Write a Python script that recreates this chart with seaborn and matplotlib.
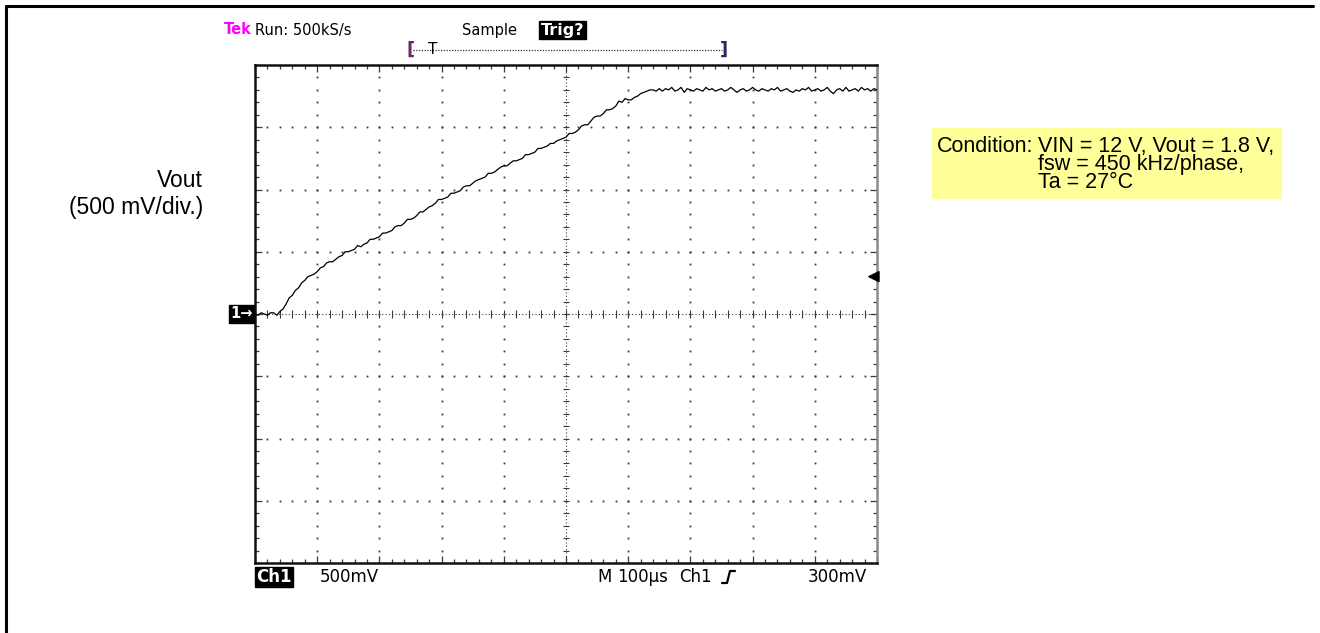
import numpy as np
import pandas as pd
import matplotlib
matplotlib.use("Agg")
import matplotlib.pyplot as plt
import seaborn as sns
from matplotlib.lines import Line2D
from matplotlib.patches import Rectangle

# ---------------- data ----------------
time_us = list(range(0, 1001, 5))           # 100 us/div, 10 div
vout_v = [
    0.00, -0.01, 0.01, 0.00, -0.01, 0.01, 0.01, -0.01, 0.02, 0.04,
    0.08, 0.13, 0.15, 0.19, 0.21, 0.25, 0.27, 0.30, 0.31, 0.32,
    0.34, 0.37, 0.38, 0.41, 0.42, 0.42, 0.44, 0.46, 0.47, 0.50,
    0.50, 0.51, 0.52, 0.55, 0.54, 0.56, 0.57, 0.60, 0.60, 0.61,
    0.62, 0.65, 0.65, 0.66, 0.67, 0.70, 0.71, 0.71, 0.73, 0.76,
    0.76, 0.77, 0.79, 0.82, 0.82, 0.84, 0.86, 0.87, 0.89, 0.92,
    0.92, 0.93, 0.94, 0.97, 0.97, 0.98, 0.99, 1.02, 1.03, 1.03,
    1.05, 1.07, 1.08, 1.09, 1.10, 1.13, 1.13, 1.14, 1.16, 1.18,
    1.19, 1.19, 1.21, 1.23, 1.23, 1.24, 1.25, 1.28, 1.28, 1.29,
    1.30, 1.33, 1.33, 1.34, 1.35, 1.37, 1.37, 1.39, 1.40, 1.41,
    1.42, 1.45, 1.45, 1.46, 1.48, 1.51, 1.52, 1.52, 1.55, 1.58,
    1.59, 1.59, 1.61, 1.64, 1.64, 1.65, 1.67, 1.71, 1.70, 1.73,
    1.72, 1.72, 1.74, 1.75, 1.77, 1.78, 1.79, 1.80, 1.80, 1.79,
    1.81, 1.79, 1.81, 1.80, 1.82, 1.79, 1.80, 1.82, 1.78, 1.81,
    1.80, 1.79, 1.81, 1.80, 1.79, 1.82, 1.80, 1.81, 1.79, 1.80,
    1.81, 1.79, 1.80, 1.82, 1.80, 1.78, 1.80, 1.81, 1.79, 1.80,
    1.82, 1.80, 1.79, 1.81, 1.80, 1.79, 1.81, 1.80, 1.82, 1.79,
    1.80, 1.81, 1.79, 1.78, 1.80, 1.79, 1.81, 1.80, 1.82, 1.79,
    1.80, 1.81, 1.79, 1.80, 1.82, 1.79, 1.77, 1.80, 1.81, 1.79,
    1.82, 1.79, 1.80, 1.81, 1.79, 1.82, 1.80, 1.81, 1.79, 1.81,
    1.80,
]
assert len(time_us) == len(vout_v)
trigger_level_v = 0.3

header_labels = ["Tek", "Run: 500kS/s", "Sample", "Trig?"]
footer_labels = ["Ch1", "500mV", "M", "100\u00b5s", "Ch1", "300mV"]
ylabel_lines = ["Vout", "(500 mV/div.)"]
condition_head = "Condition:"
condition_lines = ["VIN = 12 V, Vout = 1.8 V,",
                   "fsw = 450 kHz/phase,",
                   "Ta = 27\u00b0C"]

df = pd.DataFrame({"t_us": time_us, "vout_v": vout_v})

# ---------------- figure ----------------
sns.set_style("white")
plt.rcParams["font.family"] = ["DejaVu Sans"]
plt.rcParams["text.color"] = "black"

W, H = 1320, 633
fig = plt.figure(figsize=(W / 100, H / 100), dpi=100)

def P(x, y):
    return (x / W, 1 - y / H)

ax = fig.add_axes([255 / W, 1 - 563 / H, 622 / W, 498 / H])
ax.set_xlim(0, 1000)
ax.set_ylim(-2, 2)

# graticule: dotted division lines
gcol = "#3a3a3a"
ys_minor = np.arange(-2, 2.001, 0.1)
xs_minor = np.arange(0, 1000.1, 20)
for xv in range(100, 1000, 100):
    if xv == 500:
        continue
    ax.plot(np.full_like(ys_minor, xv), ys_minor, ls="none", marker="s",
            ms=1.3, mew=0, color=gcol, zorder=1)
for yv in [-1.5, -1.0, -0.5, 0.5, 1.0, 1.5]:
    ax.plot(xs_minor, np.full_like(xs_minor, yv), ls="none", marker="s",
            ms=1.3, mew=0, color=gcol, zorder=1)
# center cross
ax.axhline(0, color=gcol, lw=0.8, ls=(0, (1, 2)), zorder=1)
ax.axvline(500, color=gcol, lw=0.8, ls=(0, (1, 2)), zorder=1)
ax.vlines(xs_minor, -0.035, 0.035, color=gcol, lw=0.8, zorder=1)
ax.hlines(ys_minor, 495, 505, color=gcol, lw=0.8, zorder=1)

# edge ticks
ax.set_xticks(np.arange(0, 1001, 100))
ax.set_yticks(np.arange(-2, 2.01, 0.5))
ax.set_xticks(xs_minor, minor=True)
ax.set_yticks(ys_minor, minor=True)
ax.tick_params(which="both", direction="in", top=True, right=True,
               bottom=True, left=True, labelbottom=False, labelleft=False,
               color=gcol, width=0.9)
ax.tick_params(which="major", length=5)
ax.tick_params(which="minor", length=3)
for s in ["left", "top", "bottom"]:
    ax.spines[s].set_color("#111111")
    ax.spines[s].set_linewidth(1.8)
ax.spines["right"].set_color("#8a8a8a")
ax.spines["right"].set_linewidth(1.8)

# trace
sns.lineplot(data=df, x="t_us", y="vout_v", color="black", lw=0.9,
             estimator=None, legend=False, ax=ax, zorder=3)
ax.set_xlabel("")
ax.set_ylabel("")

# trigger level arrow on right edge
ax.annotate("", xy=(980, trigger_level_v), xytext=(1000, trigger_level_v),
            arrowprops=dict(arrowstyle="-|>", color="black", lw=1.3,
                            mutation_scale=17), annotation_clip=False)

# ground marker "1->"
fig.text(*P(230, 314), "1\u2192", ha="left", va="center", fontsize=10.5,
         color="white", fontweight="bold",
         bbox=dict(boxstyle="square,pad=0.1", fc="black", ec="black"))

# ---------------- header ----------------
hfs = 10.5
fig.text(*P(224, 30), header_labels[0], color="#ff00ff", fontweight="bold",
         fontsize=hfs, ha="left", va="center")
fig.text(*P(255, 30), header_labels[1], color="black", fontsize=hfs,
         ha="left", va="center")
fig.text(*P(462, 30), header_labels[2], color="black", fontsize=hfs,
         ha="left", va="center")
fig.text(*P(541, 30), header_labels[3], color="white", fontsize=11.5,
         fontweight="bold", ha="left", va="center",
         bbox=dict(boxstyle="square,pad=0.12", fc="black", ec="black"))

# record-length bracket
fig.text(*P(406, 50), "[", color="#6a2a6a", fontsize=13, ha="left",
         va="center", fontweight="bold")
fig.text(*P(728, 50), "]", color="#2a2a5a", fontsize=13, ha="right",
         va="center", fontweight="bold")
fig.add_artist(Line2D([413 / W, 722 / W], [1 - 50 / H, 1 - 50 / H],
                      color="#333333", lw=0.9, ls=(0, (1, 1.2))))
fig.text(*P(433, 50), "T", color="black", fontsize=11, ha="center", va="center")

# ---------------- footer ----------------
ffs = 12
fy = 577
fig.text(*P(256, fy), footer_labels[0], color="white", fontsize=ffs,
         fontweight="bold", ha="left", va="center",
         bbox=dict(boxstyle="square,pad=0.06", fc="black", ec="black"))
fig.text(*P(320, fy), footer_labels[1], fontsize=ffs, ha="left", va="center")
fig.text(*P(597, fy), footer_labels[2], fontsize=ffs, ha="left", va="center")
fig.text(*P(617, fy), footer_labels[3], fontsize=ffs, ha="left", va="center")
fig.text(*P(679, fy), footer_labels[4], fontsize=ffs, ha="left", va="center")
fig.add_artist(Line2D([x / W for x in (722, 727, 730, 735)],
                      [1 - y / H for y in (583, 583, 571, 571)],
                      color="black", lw=1.6))
fig.text(*P(808, fy), footer_labels[5], fontsize=ffs, ha="left", va="center")

# ---------------- annotations ----------------
afam = ["Liberation Sans", "DejaVu Sans"]
fig.text(*P(203, 194), "\n".join(ylabel_lines), family=afam, fontsize=16.5,
         ha="right", va="center", multialignment="right", linespacing=1.2)

fig.add_artist(Rectangle((932 / W, 1 - 199 / H), 350 / W, 71 / H,
                         fc="#ffff99", ec="none"))
fig.text(*P(937, 136), condition_head, family=afam, fontsize=15.5,
         ha="left", va="top")
fig.text(*P(1038, 136), "\n".join(condition_lines), family=afam,
         fontsize=15.5, ha="left", va="top", linespacing=0.82)

# outer frame
fig.add_artist(Line2D([6 / W, 1313 / W], [1 - 6 / H, 1 - 6 / H],
                      color="black", lw=2.2))
fig.add_artist(Line2D([6 / W, 6 / W], [1 - 6 / H, 0], color="black", lw=2.2))

fig.savefig("out.png", dpi=100)
